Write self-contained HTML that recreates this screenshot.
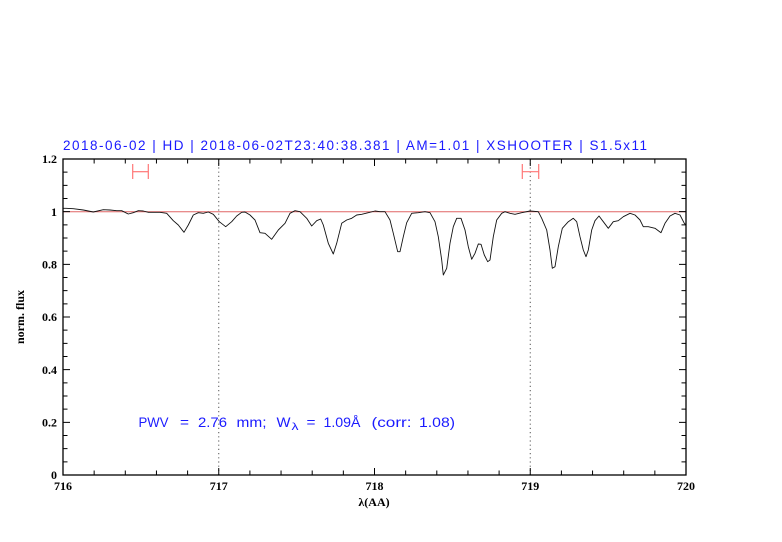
<!DOCTYPE html>
<html>
<head>
<meta charset="utf-8">
<style>
html,body{margin:0;padding:0;background:#fff;}
svg{display:block;}
</style>
</head>
<body>
<svg width="782" height="542" viewBox="0 0 782 542" xmlns="http://www.w3.org/2000/svg">
<rect width="782" height="542" fill="#fff"/>

<!-- title -->
<text x="63" y="150" font-family="Liberation Sans, sans-serif" font-size="13.5" fill="#1a1aff" textLength="584" lengthAdjust="spacing">2018-06-02 | HD | 2018-06-02T23:40:38.381 | AM=1.01 | XSHOOTER | S1.5x11</text>

<!-- reference line y=1 -->
<line x1="63" y1="211.7" x2="686" y2="211.7" stroke="#e06666" stroke-width="1"/>

<!-- dotted verticals -->
<line x1="218.75" y1="159" x2="218.75" y2="475" stroke="#555" stroke-width="1" stroke-dasharray="1.2,3"/>
<line x1="530.25" y1="159" x2="530.25" y2="475" stroke="#555" stroke-width="1" stroke-dasharray="1.2,3"/>

<!-- error bars -->
<g stroke="#ff7777" stroke-width="1.2" fill="none">
<line x1="132.7" y1="171.7" x2="148.3" y2="171.7"/>
<line x1="132.7" y1="164" x2="132.7" y2="179"/>
<line x1="148.3" y1="164" x2="148.3" y2="179"/>
<line x1="522.3" y1="171.7" x2="538.7" y2="171.7"/>
<line x1="522.3" y1="164" x2="522.3" y2="179"/>
<line x1="538.7" y1="164" x2="538.7" y2="179"/>
</g>

<!-- spectrum -->
<polyline fill="none" stroke="#111" stroke-width="0.9" stroke-linejoin="round" points="
63,208.3 66,208.3 73.3,208.7 83.3,210 93.3,212 103.3,209.7 110,210 116.7,210.7 121.7,210.7 128.3,214 133.3,212.7 138.3,210.7 143.3,211 148.3,212.3 160,212.3 166.7,213.3 173.3,220.7 178.3,225 184,232.3 188.3,225 193.3,215 198.3,212.7 203.3,213.3 208.3,212 213.3,214.3 219.3,221.7 225.7,226.7 231.7,221.7 236.7,216 241.7,212.3 245,212 250,215 255,220 260,232.7 265,233.3 271.7,239.3 278.3,230 285,223.3 290,213.3 295,210.7 300,211.7 306.7,218.3 311.7,226 316.7,220.7 320.7,219 323.3,225 328.3,243.3 333.3,254 336.7,243.3 341.7,223.3 346.7,220 351.7,218.3 356.7,215 361.7,214.3 368.3,212.7 375,211 380,211.7 385,211.7 390,220 393.3,233.3 397.7,251.7 400,251.7 403.3,236.7 406.7,222.7 411.7,213.3 418.3,212.7 425,211.7 430,212.7 435,221.7 438.3,236.7 441.7,260 443.3,275 446.7,268.3 450,243.3 453.3,226.7 456.7,218.3 461,218.3 465,230 468.3,246.7 471.7,259.3 475,253.3 478.3,244 481,244.3 484.3,255 487.7,261.7 490,260 493.3,236.7 496.7,220 501.7,213.3 505,211.7 510,213.3 515,214.3 521.7,212.7 530,211 538.3,211.7 541.7,218.3 546.7,230 550,250 552.3,268.3 555,266.7 558.3,246.7 562.3,228.3 568.3,221.7 573.3,218.3 576.7,221.7 580,236.7 583.3,250 586,256.7 588.3,250 591.7,230 595,220.7 599,216 603.3,221.7 608.3,228.3 613.3,221.7 618.3,220.7 623.3,216.7 630,213.3 635,215 640,220 643.3,226.7 648.3,226.7 655,228.3 661,232.7 665,223.3 670,216 675,213.3 680,215 684.3,223.3 686,225"/>

<!-- frame -->
<rect x="63" y="159" width="623" height="316" fill="none" stroke="#000" stroke-width="1.3"/>

<!-- ticks -->
<g stroke="#000" stroke-width="1">
<path d="
M63,475v-7 M94.15,475v-4.5 M125.3,475v-4.5 M156.45,475v-4.5 M187.6,475v-4.5
M218.75,475v-7 M249.9,475v-4.5 M281.05,475v-4.5 M312.2,475v-4.5 M343.35,475v-4.5
M374.5,475v-7 M405.65,475v-4.5 M436.8,475v-4.5 M467.95,475v-4.5 M499.1,475v-4.5
M530.25,475v-7 M561.4,475v-4.5 M592.55,475v-4.5 M623.7,475v-4.5 M654.85,475v-4.5
M686,475v-7
M63,159v7 M94.15,159v4.5 M125.3,159v4.5 M156.45,159v4.5 M187.6,159v4.5
M218.75,159v7 M249.9,159v4.5 M281.05,159v4.5 M312.2,159v4.5 M343.35,159v4.5
M374.5,159v7 M405.65,159v4.5 M436.8,159v4.5 M467.95,159v4.5 M499.1,159v4.5
M530.25,159v7 M561.4,159v4.5 M592.55,159v4.5 M623.7,159v4.5 M654.85,159v4.5
M686,159v7
"/>
<path d="
M63,475h7 M63,461.83h4.5 M63,448.67h4.5 M63,435.5h4.5
M63,422.33h7 M63,409.17h4.5 M63,396h4.5 M63,382.83h4.5
M63,369.67h7 M63,356.5h4.5 M63,343.33h4.5 M63,330.17h4.5
M63,317h7 M63,303.83h4.5 M63,290.67h4.5 M63,277.5h4.5
M63,264.33h7 M63,251.17h4.5 M63,238h4.5 M63,224.83h4.5
M63,211.67h7 M63,198.5h4.5 M63,185.33h4.5 M63,172.17h4.5
M63,159h7
M686,475h-7 M686,461.83h-4.5 M686,448.67h-4.5 M686,435.5h-4.5
M686,422.33h-7 M686,409.17h-4.5 M686,396h-4.5 M686,382.83h-4.5
M686,369.67h-7 M686,356.5h-4.5 M686,343.33h-4.5 M686,330.17h-4.5
M686,317h-7 M686,303.83h-4.5 M686,290.67h-4.5 M686,277.5h-4.5
M686,264.33h-7 M686,251.17h-4.5 M686,238h-4.5 M686,224.83h-4.5
M686,211.67h-7 M686,198.5h-4.5 M686,185.33h-4.5 M686,172.17h-4.5
M686,159h-7
"/>
</g>

<!-- y tick labels -->
<g font-family="Liberation Serif, serif" font-size="12" font-weight="bold" fill="#000" text-anchor="end">
<text x="57" y="479">0</text>
<text x="57" y="426.5">0.2</text>
<text x="57" y="374">0.4</text>
<text x="57" y="321">0.6</text>
<text x="57" y="268.5">0.8</text>
<text x="57" y="216">1</text>
<text x="57" y="163">1.2</text>
</g>

<!-- x tick labels -->
<g font-family="Liberation Serif, serif" font-size="12" font-weight="bold" fill="#000" text-anchor="middle">
<text x="63" y="490">716</text>
<text x="218.75" y="490">717</text>
<text x="374.5" y="490">718</text>
<text x="530.25" y="490">719</text>
<text x="686" y="490">720</text>
</g>

<!-- axis labels -->
<text x="374" y="506" font-family="Liberation Serif, serif" font-size="12" font-weight="bold" text-anchor="middle" fill="#000">λ(AA)</text>
<text transform="translate(24,317) rotate(-90)" font-family="Liberation Serif, serif" font-size="12" font-weight="bold" text-anchor="middle" fill="#000">norm. flux</text>

<!-- PWV annotation -->
<g font-family="Liberation Sans, sans-serif" font-size="13.5" fill="#1a1aff">
<text x="138.5" y="427" textLength="30" lengthAdjust="spacingAndGlyphs">PWV</text>
<text x="180" y="427" textLength="9" lengthAdjust="spacingAndGlyphs">=</text>
<text x="198" y="427" textLength="29" lengthAdjust="spacingAndGlyphs">2.76</text>
<text x="236.5" y="427" textLength="30" lengthAdjust="spacingAndGlyphs">mm;</text>
<text x="276.5" y="427" textLength="14" lengthAdjust="spacingAndGlyphs">W</text>
<text x="291.5" y="430" font-size="10" textLength="7" lengthAdjust="spacingAndGlyphs">λ</text>
<text x="306.5" y="427" textLength="9" lengthAdjust="spacingAndGlyphs">=</text>
<text x="323.5" y="427" textLength="37" lengthAdjust="spacingAndGlyphs">1.09Å</text>
<text x="371.5" y="427" textLength="40" lengthAdjust="spacingAndGlyphs">(corr:</text>
<text x="419" y="427" textLength="36" lengthAdjust="spacingAndGlyphs">1.08)</text>
</g>

</svg>
</body>
</html>
